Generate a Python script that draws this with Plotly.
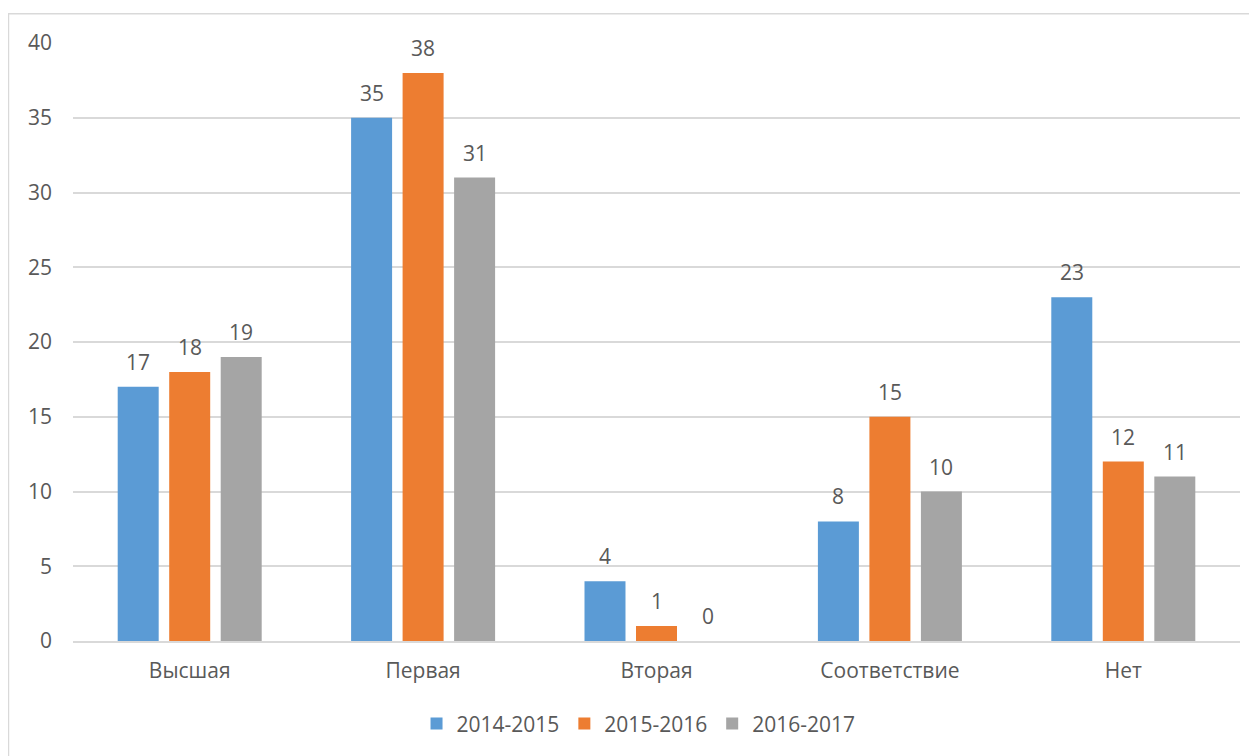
import plotly.graph_objects as go

categories = ["Высшая", "Первая", "Вторая", "Соответствие", "Нет"]
series_names = ["2014-2015", "2015-2016", "2016-2017"]
values_2014 = [17, 35, 4, 8, 23]
values_2015 = [18, 38, 1, 15, 12]
values_2016 = [19, 31, 0, 10, 11]
series_values = [values_2014, values_2015, values_2016]
colors = ["#5B9BD5", "#ED7D31", "#A5A5A5"]
y_ticks = [0, 5, 10, 15, 20, 25, 30, 35, 40]

FONT = "Open Sans"
TEXT_COLOR = "#595959"
GRID = "#D9D9D9"
FS = 21

fig = go.Figure()
for name, vals, col in zip(series_names, series_values, colors):
    fig.add_trace(go.Bar(
        x=categories, y=vals, name=name,
        marker=dict(color=col, line=dict(width=0)),
        hoverinfo="x+y+name",
    ))

# data labels
slot_px = 51.5
for j, vals in enumerate(series_values):
    for cat, v in zip(categories, vals):
        fig.add_annotation(
            x=cat, y=v, xref="x", yref="y",
            text=str(v), showarrow=False,
            xshift=(j - 1) * slot_px, yshift=25,
            yanchor="middle", xanchor="center",
            font=dict(family=FONT, size=FS, color=TEXT_COLOR),
        )

# chart border (partially cut off at right and bottom)
fig.add_shape(
    type="rect", xref="paper", yref="paper",
    x0=-0.0553, x1=1.04, y0=-0.25, y1=1.0488,
    line=dict(color=GRID, width=1.5), fillcolor="rgba(0,0,0,0)",
    layer="below",
)

fig.update_layout(
    width=1249, height=748,
    margin=dict(l=65, r=17, t=35, b=115),
    paper_bgcolor="white", plot_bgcolor="white",
    barmode="group", bargap=0.338, bargroupgap=0.204,
    font=dict(family=FONT, size=FS, color=TEXT_COLOR),
    showlegend=True,
    legend=dict(
        orientation="h", x=0.4846, xanchor="center", y=-0.1387, yanchor="middle",
        font=dict(family=FONT, size=FS, color=TEXT_COLOR),
        traceorder="normal", itemwidth=30,
    ),
    xaxis=dict(
        type="category", showgrid=False, showline=True, linecolor=GRID, linewidth=1.5,
        ticks="", tickfont=dict(family=FONT, size=FS, color=TEXT_COLOR),
        ticklabelstandoff=10, fixedrange=True,
    ),
    yaxis=dict(
        range=[0, 40], tickvals=y_ticks, showgrid=True, gridcolor=GRID, gridwidth=1.5,
        zeroline=False, showline=False, ticks="",
        tickfont=dict(family=FONT, size=FS, color=TEXT_COLOR),
        ticklabelstandoff=20, fixedrange=True,
    ),
)

fig.write_html("out.html")
